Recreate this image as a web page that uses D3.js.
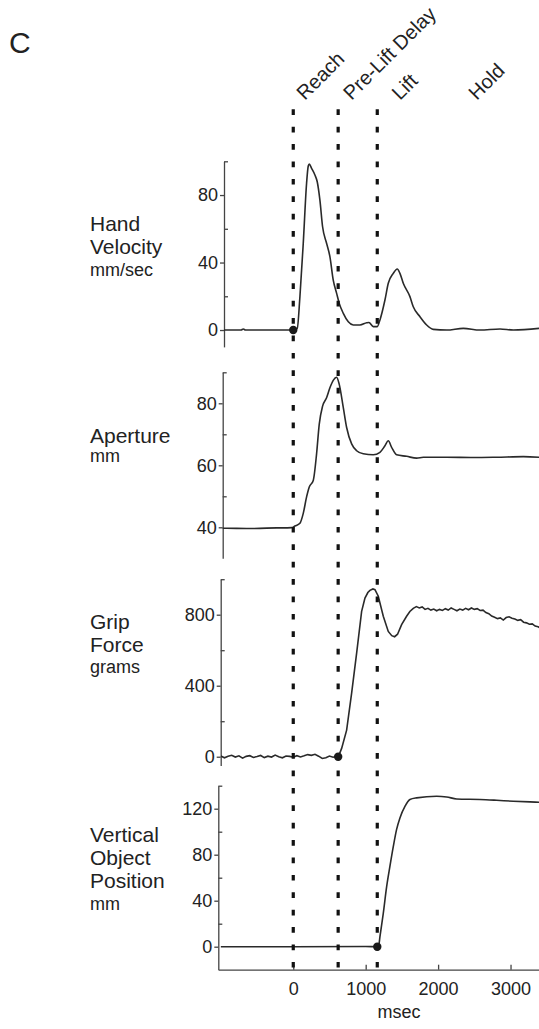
<!DOCTYPE html>
<html>
<head>
<meta charset="utf-8">
<script src="https://cdn.jsdelivr.net/npm/d3@7"></script>
<style>
body{margin:0;background:#fff}
text{font-family:"Liberation Sans",Arial,sans-serif;fill:#222}
</style>
</head>
<body>
<div id="svg"></div>
<script>
// phases and events (msec)
const phaseNames = ["Reach","Pre-Lift Delay","Lift","Hold"];
const phaseLabelTimes = [160,805,1475,2535];
const eventTimes = [0,620,1160];
const xTicks = [0,1000,2000,3000];

// hand velocity, mm/sec
const velTime = [-1000,-875,-720,-690,-660,-414,-200,0,55,92,138,184,207,221,253,299,331,368,405,460,506,552,599,635,691,760,829,921,1013,1045,1105,1160,1197,1266,1312,1381,1436,1473,1519,1611,1657,1750,1842,1934,2118,2348,2578,2855,3039,3400];
const velocity = [0,0,0,0.6,0,0,0,0,1,19.8,51.4,87,97.2,98.4,95.8,91.9,87.9,77,61.2,51.4,43.5,29.6,21.7,15.8,9.9,4.9,3,3,4.3,4.5,2,2,6,17.8,27.7,33.6,36.2,33.6,27.7,19.8,13.8,7.9,3,0.4,0,1,0,0.6,0,1];
const velTicks = [0,40,80];
const velMinor = [20,60,100];

// aperture, mm
const apTime = [-1000,-921,-645,-230,-23,23,92,138,184,221,276,322,359,405,460,506,552,599,635,691,737,806,875,967,1105,1197,1266,1312,1358,1427,1565,1703,1796,2118,2486,2808,3177,3400];
const aperture = [39.7,39.7,39.6,39.8,39.9,40.4,41.3,44.5,49.8,53,55.1,63.7,73.3,79.1,81.8,85,87.4,88.4,86.1,78.6,72.2,66.9,64.7,63.7,63.4,64.2,66.3,67.9,65.8,63.4,62.9,62.3,62.6,62.6,62.5,62.6,62.8,62.6];
const apTicks = [40,60,80];
const apMinor = [50,70,90];

// grip force, grams
const gripTime = [-1000,-950,-900,-850,-800,-750,-700,-650,-600,-550,-500,-450,-400,-350,-300,-250,-200,-150,-100,-50,0,50,100,150,200,250,300,350,400,450,500,550,600,
  622,668,737,806,875,944,990,1030,1059,1100,1128,1174,1243,1312,1360,1400,1440,1496,1565,1610,
  1657,1700,1740,1780,1820,1860,1900,1940,1980,2020,2060,2100,2140,2180,2220,2260,2300,2340,2380,2420,2460,2500,2540,2580,2620,2660,2700,2740,2780,2820,2860,2900,2940,2980,3020,3060,3100,3140,3180,3220,3260,3300,3340,3380,3400];
const grip = [4,-6,3,8,-2,5,-8,2,6,-4,1,7,-5,3,-2,9,0,-6,4,2,-3,6,-1,5,12,8,14,3,-10,-6,4,-3,2,
  0,47,150,358,584,819,894,925,937,945,941,904,791,706,682,676,690,744,791,818,
  836,846,838,844,830,836,826,832,822,830,824,834,826,838,830,822,832,826,836,828,838,830,834,824,826,812,806,792,786,778,782,770,784,788,780,776,768,772,758,754,746,748,736,732,728];
const gripTicks = [0,400,800];
const gripMinor = [200,600,1000];

// vertical object position, mm
const posTime = [-1000,0,1000,1160,1183,1197,1243,1289,1335,1381,1427,1473,1542,1611,1703,1980,2118,2256,2578,2808,3039,3269,3400];
const position = [0,0,0.2,0,2,8.7,29,52,70,87,102,112,122,128,129.4,130.8,130.2,128.5,128,127.3,126.5,125.9,125.6];
const posTicks = [0,40,80,120];
const posMinor = [20,60,100,140];

const width = 539;
const height = 1029;
const svg = d3.select("#svg").append("svg")
  .attr("width",width)
  .attr("height",height);

const x = d3.scaleLinear().domain([-1035,3400]).range([218.3,539.5]);

const panels = [
  {lines:["Hand","Velocity"],unit:"mm/sec",labelY:231,unitGap:22,axisX:224,domain:[-10,100],range:[346.9,161.3],
   ticks:velTicks,minor:velMinor,t:velTime,v:velocity,dot:0,curve:d3.curveMonotoneX},
  {lines:["Aperture"],unit:"mm",labelY:442.7,unitGap:19,axisX:222.7,domain:[30,90],range:[558.3,372.3],
   ticks:apTicks,minor:apMinor,t:apTime,v:aperture,dot:null,curve:d3.curveMonotoneX},
  {lines:["Grip","Force"],unit:"grams",labelY:629,unitGap:21,axisX:220.7,domain:[-50,1000],range:[765.6,579.2],
   ticks:gripTicks,minor:gripMinor,t:gripTime,v:grip,dot:1,curve:d3.curveLinear},
  {lines:["Vertical","Object","Position"],unit:"mm",labelY:841.7,unitGap:22,axisX:218.3,domain:[-20,140],range:[969.7,785.7],
   ticks:posTicks,minor:posMinor,t:posTime,v:position,dot:2,curve:d3.curveMonotoneX}
];

// panel letter
svg.append("text").attr("x",9).attr("y",53).attr("font-size","30px").text("C");

// rotated phase names
svg.selectAll("text.phase").data(phaseNames).enter().append("text")
  .attr("class","phase")
  .attr("font-size","20px")
  .attr("transform",(d,i)=>`translate(${x(phaseLabelTimes[i])},101) rotate(-45)`)
  .text(d=>d);

panels.forEach((p,k)=>{
  const y = d3.scaleLinear().domain(p.domain).range(p.range);
  const g = svg.append("g");

  // labels on the left
  p.lines.forEach((s,i)=>{
    g.append("text").attr("x",90).attr("y",p.labelY+i*23.3).attr("font-size","21px").text(s);
  });
  g.append("text").attr("x",90)
    .attr("y",p.labelY+(p.lines.length-1)*23.3+p.unitGap)
    .attr("font-size","18px").text(p.unit);

  // y axis: labelled ticks outward, minor ticks inward
  const ax = g.append("g").attr("transform",`translate(${p.axisX},0)`)
    .call(d3.axisLeft(y).tickValues(p.ticks).tickSizeInner(4).tickSizeOuter(0).tickPadding(2));
  ax.selectAll("text").attr("font-size","18px").attr("font-family",null).attr("fill","#222");
  const mn = g.append("g").attr("transform",`translate(${p.axisX},0)`)
    .call(d3.axisLeft(y).tickValues(p.minor).tickSize(-4).tickFormat(""));
  mn.select(".domain").remove();
  g.selectAll(".domain, .tick line").attr("stroke","#444").attr("stroke-width",1.3);

  // data line, clipped at the axis
  g.append("clipPath").attr("id","clip"+k).append("rect")
    .attr("x",p.axisX).attr("y",0).attr("width",width-p.axisX).attr("height",height);
  const line = d3.line().x(d=>x(d[0])).y(d=>y(d[1])).curve(p.curve);
  g.append("path").datum(d3.zip(p.t,p.v))
    .attr("clip-path",`url(#clip${k})`)
    .attr("fill","none").attr("stroke","#2a2a2a").attr("stroke-width",1.6)
    .attr("d",line);

  p.y = y;
});

// time axis
const xa = svg.append("g").attr("transform",`translate(0,${panels[3].range[0]})`)
  .call(d3.axisBottom(x).tickValues(xTicks).tickFormat(d3.format("d"))
    .tickSizeInner(-5).tickSizeOuter(0).tickPadding(12.6));
xa.selectAll("text").attr("font-size","18px").attr("font-family",null).attr("fill","#222");
xa.selectAll(".domain, .tick line").attr("stroke","#444").attr("stroke-width",1.3);
svg.append("text").attr("x",x(1460)).attr("y",1018).attr("text-anchor","middle")
  .attr("font-size","18px").text("msec");

// event lines
svg.selectAll("line.event").data(eventTimes).enter().append("line")
  .attr("class","event")
  .attr("x1",d=>x(d)).attr("x2",d=>x(d))
  .attr("y1",109.3).attr("y2",976)
  .attr("stroke","#111").attr("stroke-width",3.2)
  .attr("stroke-dasharray","5.7,11.7");

// onset markers
panels.filter(p=>p.dot!==null).forEach(p=>{
  svg.append("circle")
    .attr("cx",x(eventTimes[p.dot])).attr("cy",p.y(0))
    .attr("r",4.2).attr("fill","#1a1a1a");
});
</script>
</body>
</html>
